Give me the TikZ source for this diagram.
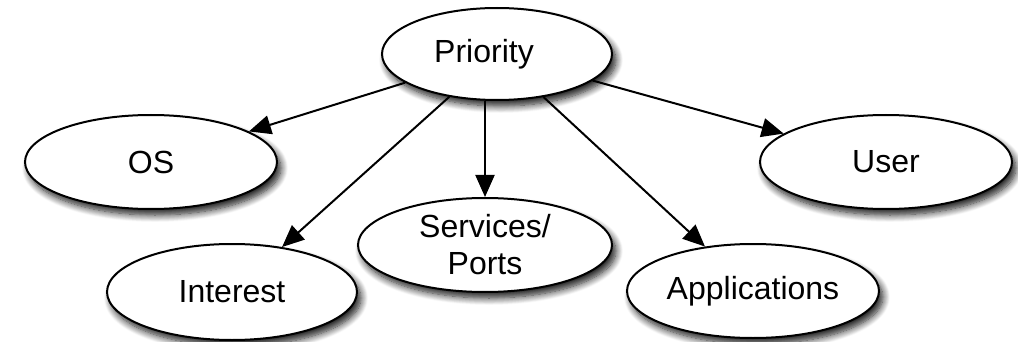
\documentclass[tikz,border=0pt]{standalone}
\usepackage{fontspec}
\setmainfont{Liberation Sans}
\usetikzlibrary{shapes.geometric,arrows.meta,shadows.blur}
\tikzset{
  ell/.style={ellipse, draw=black, line width=2pt, fill=white, inner sep=0pt,
    minimum width=252pt, minimum height=94pt, align=center,
    font=\fontsize{32}{37}\selectfont,
    blur shadow={shadow xshift=4pt, shadow yshift=-6pt, shadow blur radius=7pt, shadow blur steps=10, shadow opacity=90}},
  conn/.style={line width=2pt, -{Triangle[length=22pt,width=19pt]}}
}
\begin{document}
\begin{tikzpicture}[x=1pt,y=-1pt]
\useasboundingbox (0,0) rectangle (1018,342);
\node[ell, minimum width=230pt, minimum height=92pt] (pri) at (497,54) {\hspace*{-26pt}Priority};
\node[ell] (os) at (151,162) {OS};
\node[ell, minimum width=250pt, minimum height=96pt] (int) at (232,292) {Interest};
\node[ell, minimum width=254pt] (srv) at (485,245) {Services/\\Ports};
\node[ell] (app) at (753,291) {Applications};
\node[ell] (usr) at (886,162) {User};
\draw[conn] (pri) -- (os);
\draw[conn] (pri) -- (int);
\draw[conn] (pri.south -| srv.north) -- (srv.north);
\draw[conn] (pri) -- (app);
\draw[conn] (pri) -- (usr);
\end{tikzpicture}
\end{document}
